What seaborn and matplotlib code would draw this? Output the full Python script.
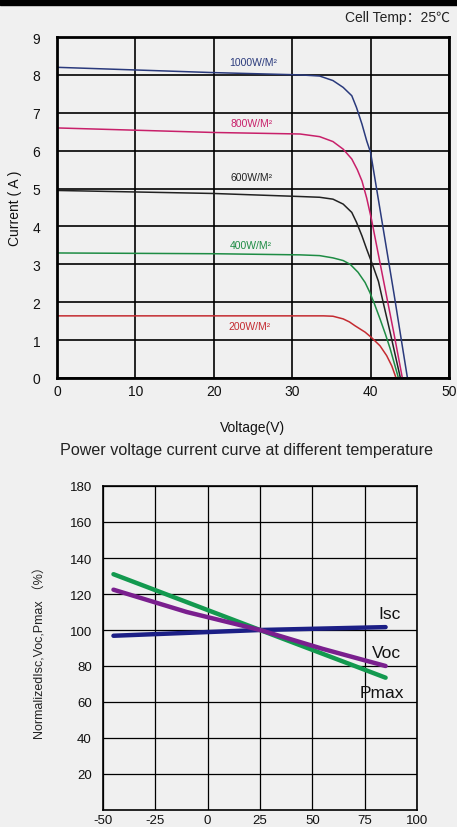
"""
Curvas I-V a distintas irradiancias + curva normalizada vs temperatura.
"""
import pandas as pd
import matplotlib
matplotlib.use("Agg")
import matplotlib.pyplot as plt
import seaborn as sns
from matplotlib.patches import Rectangle

# ── Datos: curvas I-V (Cell Temp 25°C) ─────────────────────────
v_1000 = [0, 10, 20, 31, 33.5, 35.2, 36.5, 37.6, 38.2, 38.9, 39.5, 40, 41, 42, 43, 44, 44.7]
i_1000 = [8.2, 8.13, 8.06, 8.0, 7.97, 7.85, 7.67, 7.45, 7.14, 6.7, 6.26, 5.95, 4.7, 3.45, 2.2, 0.9, 0]

v_800 = [0, 10, 20, 31, 33.5, 35.2, 36.5, 37.6, 38.3, 38.9, 39.5, 40.1, 41, 42, 43, 44.05]
i_800 = [6.6, 6.54, 6.48, 6.44, 6.37, 6.24, 6.04, 5.78, 5.5, 5.2, 4.75, 4.2, 3.25, 2.2, 1.15, 0]

v_600 = [0, 10, 20, 31, 33.5, 35.2, 36.5, 37.6, 38.2, 38.9, 39.5, 40.3, 41, 41.6, 42.5, 43.2, 43.8]
i_600 = [4.95, 4.91, 4.87, 4.79, 4.77, 4.72, 4.59, 4.37, 4.11, 3.75, 3.4, 2.96, 2.55, 2.0, 1.2, 0.55, 0]

v_400 = [0, 10, 20, 31, 33.5, 35.2, 36.5, 37.4, 38.4, 39.3, 39.9, 40.5, 41.2, 41.9, 42.5, 43.55]
i_400 = [3.3, 3.29, 3.28, 3.25, 3.23, 3.17, 3.1, 3.0, 2.79, 2.52, 2.26, 1.95, 1.56, 1.15, 0.77, 0]

v_200 = [0, 10, 20, 31, 34, 35.2, 36.5, 37.3, 38.0, 39.3, 40.1, 41.2, 42.05, 42.7, 43.25]
i_200 = [1.64, 1.64, 1.64, 1.64, 1.64, 1.63, 1.56, 1.48, 1.38, 1.21, 1.07, 0.85, 0.59, 0.32, 0]

irr_labels = ["1000W/M²", "800W/M²", "600W/M²", "400W/M²", "200W/M²"]
irr_label_pos = [(22.0, 8.34), (22.1, 6.73), (22.1, 5.3), (22.0, 3.5), (21.9, 1.37)]
irr_colors = ["#2a3a7c", "#c8206a", "#222222", "#1e8c44", "#c42a30"]

# ── Datos: normalizado vs temperatura ──────────────────────────
temp_isc = [-45, 25, 85]
isc_vals = [96.8, 100, 101.6]
temp_voc = [-45, -10, 25, 55, 85]
voc_vals = [122.4, 110, 100, 89.5, 80]
temp_pmax = [-45, 25, 85]
pmax_vals = [131, 100, 73.5]

BG = "#f0f0f0"

sns.set_style("white", {"axes.facecolor": BG, "figure.facecolor": BG})
plt.rcParams['font.family'] = ['Liberation Sans', 'DejaVu Sans']
plt.rcParams['axes.unicode_minus'] = False

W, H = 457, 828
fig = plt.figure(figsize=(W / 100, H / 100), dpi=100)
fig.patch.set_facecolor(BG)
fig.patches.append(Rectangle((0, 1 - 6 / H), 1, 6 / H, transform=fig.transFigure,
                             color="black", zorder=0))

# ── 1. Curvas I-V ──────────────────────────────────────────────
ax1 = fig.add_axes([57 / W, 1 - 379 / H, (449 - 57) / W, (379 - 38) / H])
ax1.set_facecolor(BG)

curves = [(v_1000, i_1000), (v_800, i_800), (v_600, i_600), (v_400, i_400), (v_200, i_200)]
for (v, i), col, lab, (lx, ly) in zip(curves, irr_colors, irr_labels, irr_label_pos):
    df = pd.DataFrame({"V": v, "I": i})
    sns.lineplot(data=df, x="V", y="I", color=col, lw=1.1, sort=False,
                 estimator=None, ax=ax1, solid_joinstyle="round")
    ax1.text(lx, ly, lab, color=col, fontsize=7.5, ha="left", va="center")

ax1.set_xlim(0, 50)
ax1.set_ylim(0, 9)
ax1.set_xticks(range(0, 51, 10))
ax1.set_yticks(range(0, 10))
ax1.grid(True, color="black", lw=1.2)
for s in ax1.spines.values():
    s.set_color("black")
    s.set_linewidth(2)
ax1.tick_params(length=0, labelsize=10, colors="#111111")
ax1.tick_params(axis="y", pad=12)
ax1.tick_params(axis="x", pad=4)
ax1.set_xlabel("Voltage(V)", fontsize=10, color="#111111")
ax1.set_ylabel("Current ( A )", fontsize=10, color="#111111")
ax1.xaxis.set_label_coords(0.5, (379 - 428) / 341, transform=ax1.transAxes)
ax1.yaxis.set_label_coords((15 - 57) / 392, 0.5, transform=ax1.transAxes)
ax1.xaxis.label.set_va("center")
ax1.yaxis.label.set_va("center")

fig.text(450 / W, 1 - 18 / H, "Cell Temp：25℃", ha="right", va="center", fontsize=10,
         color="#222222", family=['Liberation Sans', 'Noto Sans CJK SC'])
fig.text(246 / W, 1 - 451 / H, "Power voltage current curve at different temperature",
         ha="center", va="center", fontsize=11.6, color="#222222")

# ── 2. Normalizado vs temperatura ──────────────────────────────
ax2 = fig.add_axes([103 / W, 1 - 811 / H, (417 - 103) / W, (811 - 487) / H])
ax2.set_facecolor(BG)

sns.lineplot(x=temp_isc, y=isc_vals, color="#1c1f86", lw=3.2, sort=False, estimator=None, ax=ax2)
sns.lineplot(x=temp_pmax, y=pmax_vals, color="#13994f", lw=3.2, sort=False, estimator=None, ax=ax2)
sns.lineplot(x=temp_voc, y=voc_vals, color="#7a1f8e", lw=3.2, sort=False, estimator=None, ax=ax2)

ax2.text(87, 109, "Isc", fontsize=12.5, ha="center", va="center", color="#111111")
ax2.text(85.5, 87.5, "Voc", fontsize=12.5, ha="center", va="center", color="#111111")
ax2.text(83, 65.5, "Pmax", fontsize=12.5, ha="center", va="center", color="#111111")

ax2.set_xlim(-50, 100)
ax2.set_ylim(0, 180)
ax2.set_xticks(range(-50, 101, 25))
ax2.set_yticks(range(20, 181, 20))
ax2.grid(True, color="black", lw=0.9)
for s in ax2.spines.values():
    s.set_color("black")
    s.set_linewidth(1.2)
ax2.tick_params(length=0, labelsize=9.5, colors="#111111")
ax2.tick_params(axis="y", pad=8)
ax2.tick_params(axis="x", pad=3)
ax2.set_xlabel("")
ax2.set_ylabel("NormalizedIsc,Voc,Pmax （%）", fontsize=9, color="#222222",
               family=['Liberation Sans', 'Noto Sans CJK SC'])
ax2.yaxis.set_label_coords((40 - 103) / 314, (811 - 650) / 324, transform=ax2.transAxes)
ax2.yaxis.label.set_va("center")

fig.savefig("out.png", dpi=100, facecolor=BG)
plt.close(fig)
